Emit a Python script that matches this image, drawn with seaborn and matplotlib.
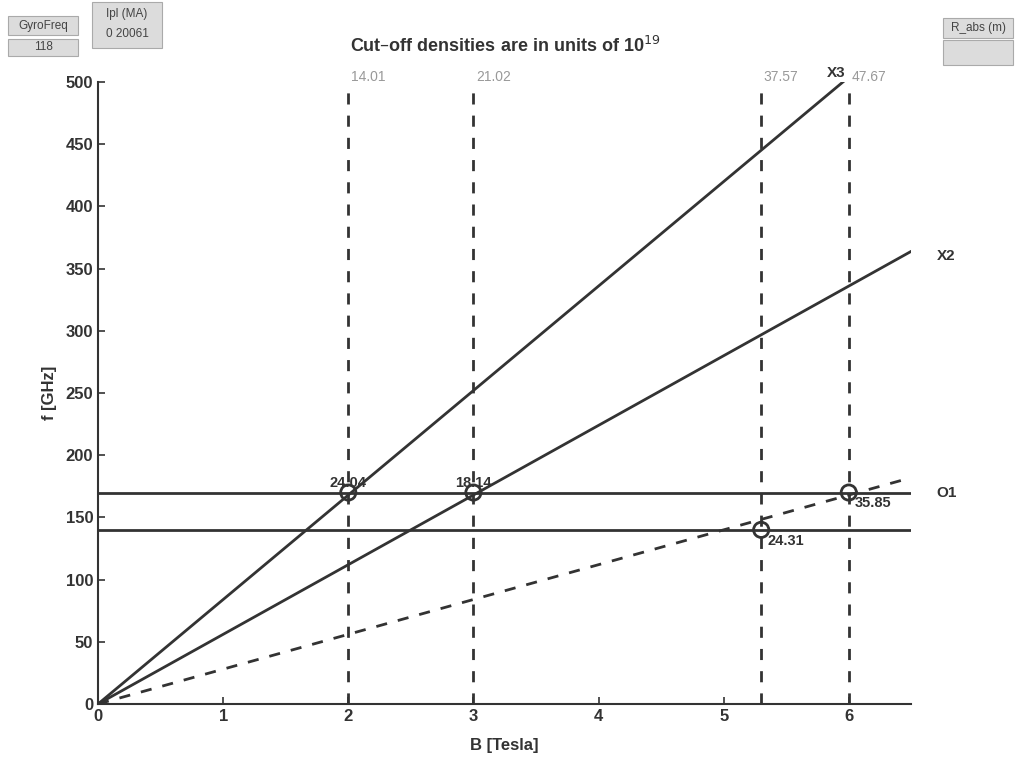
import matplotlib
matplotlib.use("Agg")
import matplotlib.pyplot as plt
import seaborn as sns
import pandas as pd
from matplotlib.patches import Rectangle

# ---- data ----
b_range = [0.0, 6.5]
x3_freq = [0.0, 546.0]
x2_freq = [0.0, 364.0]
o1_freq = [0.0, 182.0]
h_levels = [170.0, 140.0]
v_b = [2.0, 3.0, 5.3, 6.0]
top_labels = ["14.01", "21.02", "37.57", "47.67"]
pt_b = [2.0, 3.0, 5.3, 6.0]
pt_f = [170.0, 170.0, 140.0, 170.0]
pt_labels = ["24.04", "18.14", "24.31", "35.85"]
xticks = [0, 1, 2, 3, 4, 5, 6]
yticks = [0, 50, 100, 150, 200, 250, 300, 350, 400, 450, 500]

sns.set_style("ticks")
plt.rcParams['font.family'] = ['Liberation Sans', 'DejaVu Sans']

fig = plt.figure(figsize=(10.16, 7.6), dpi=100)
ax = fig.add_axes([0.0965, 0.0737, 0.8005, 0.8183])

col = "#333333"
df = pd.DataFrame({"B": b_range * 3,
                   "f": x3_freq + x2_freq + o1_freq,
                   "mode": ["X3"] * 2 + ["X2"] * 2 + ["O1"] * 2})
sns.lineplot(data=df[df["mode"] == "X3"], x="B", y="f", ax=ax, color=col, lw=2)
sns.lineplot(data=df[df["mode"] == "X2"], x="B", y="f", ax=ax, color=col, lw=2)
sns.lineplot(data=df[df["mode"] == "O1"], x="B", y="f", ax=ax, color=col, lw=2,
             linestyle=(0, (4, 4)))
for h in h_levels:
    sns.lineplot(x=b_range, y=[h, h], ax=ax, color=col, lw=2)
sns.lineplot(x=b_range, y=[0, 0], ax=ax, color=col, lw=2)
for v in v_b:
    ax.axvline(v, color=col, lw=2, linestyle=(0, (4, 4)), ymax=0.99)
sns.scatterplot(x=pt_b, y=pt_f, ax=ax, s=120, marker="o", facecolors="none",
                edgecolor=col, linewidth=2, zorder=5)

ax.set_xlim(0, 6.5)
ax.set_ylim(0, 500)
ax.set_xticks(xticks)
ax.set_yticks(yticks)
ax.tick_params(direction="in", length=5, labelsize=12, width=1.2, colors=col)
for lab in ax.get_xticklabels() + ax.get_yticklabels():
    lab.set_fontweight("bold")
sns.despine(ax=ax)
for s in ["left", "bottom"]:
    ax.spines[s].set_linewidth(1.5)
    ax.spines[s].set_color(col)

ax.set_xlabel("B [Tesla]", fontsize=12, fontweight="bold", color=col, labelpad=10)
ax.set_ylabel("f [GHz]", fontsize=12, fontweight="bold", color=col, labelpad=6)
ax.set_title("Cut\u2013off densities are in units of 10$^{19}$", fontsize=13,
             color=col, pad=22, fontweight="bold")

# annotations
for x, t in zip(v_b, top_labels):
    ax.text(x + 0.02, 504, t, color="#999999", fontsize=10, ha="left", va="center")
ax.text(pt_b[0], pt_f[0] + 2, pt_labels[0], color=col, fontsize=10.5, ha="center",
        va="bottom", fontweight="bold")
ax.text(pt_b[1], pt_f[1] + 2, pt_labels[1], color=col, fontsize=10.5, ha="center",
        va="bottom", fontweight="bold")
ax.text(pt_b[2] + 0.05, pt_f[2] - 3, pt_labels[2], color=col, fontsize=10.5, ha="left",
        va="top", fontweight="bold")
ax.text(pt_b[3] + 0.05, pt_f[3] - 3, pt_labels[3], color=col, fontsize=10.5, ha="left",
        va="top", fontweight="bold")
ax.text(5.97, 502, "X3", color=col, fontsize=11, ha="right", va="bottom", fontweight="bold")
ax.text(6.7, 360, "X2", color=col, fontsize=11, ha="left", va="center", clip_on=False,
        fontweight="bold")
ax.text(6.7, 170, "O1", color=col, fontsize=11, ha="left", va="center", clip_on=False,
        fontweight="bold")

# GUI-like boxes
def box(x0, y0, w, h, text, fs=8.5):
    fx, fy = x0 / 1016, 1 - (y0 + h) / 760
    fig.patches.append(Rectangle((fx, fy), w / 1016, h / 760, transform=fig.transFigure,
                                 facecolor="#dcdcdc", edgecolor="#aaaaaa", lw=0.8))
    if text:
        fig.text(fx + w / 2032, fy + h / 1520, text, ha="center", va="center",
                 fontsize=fs, color="#444444")

box(8, 16, 70, 19, "GyroFreq")
box(8, 39, 70, 17, "118")
box(92, 2, 70, 46, "")
fig.text(127 / 1016, 1 - 14 / 760, "Ipl (MA)", ha="center", va="center", fontsize=8.5, color="#444444")
fig.text(127 / 1016, 1 - 34 / 760, "0 20061", ha="center", va="center", fontsize=8.5, color="#444444")
box(943, 18, 70, 20, "R_abs (m)")
box(943, 40, 70, 25, "")

fig.savefig("out.png", dpi=100)
